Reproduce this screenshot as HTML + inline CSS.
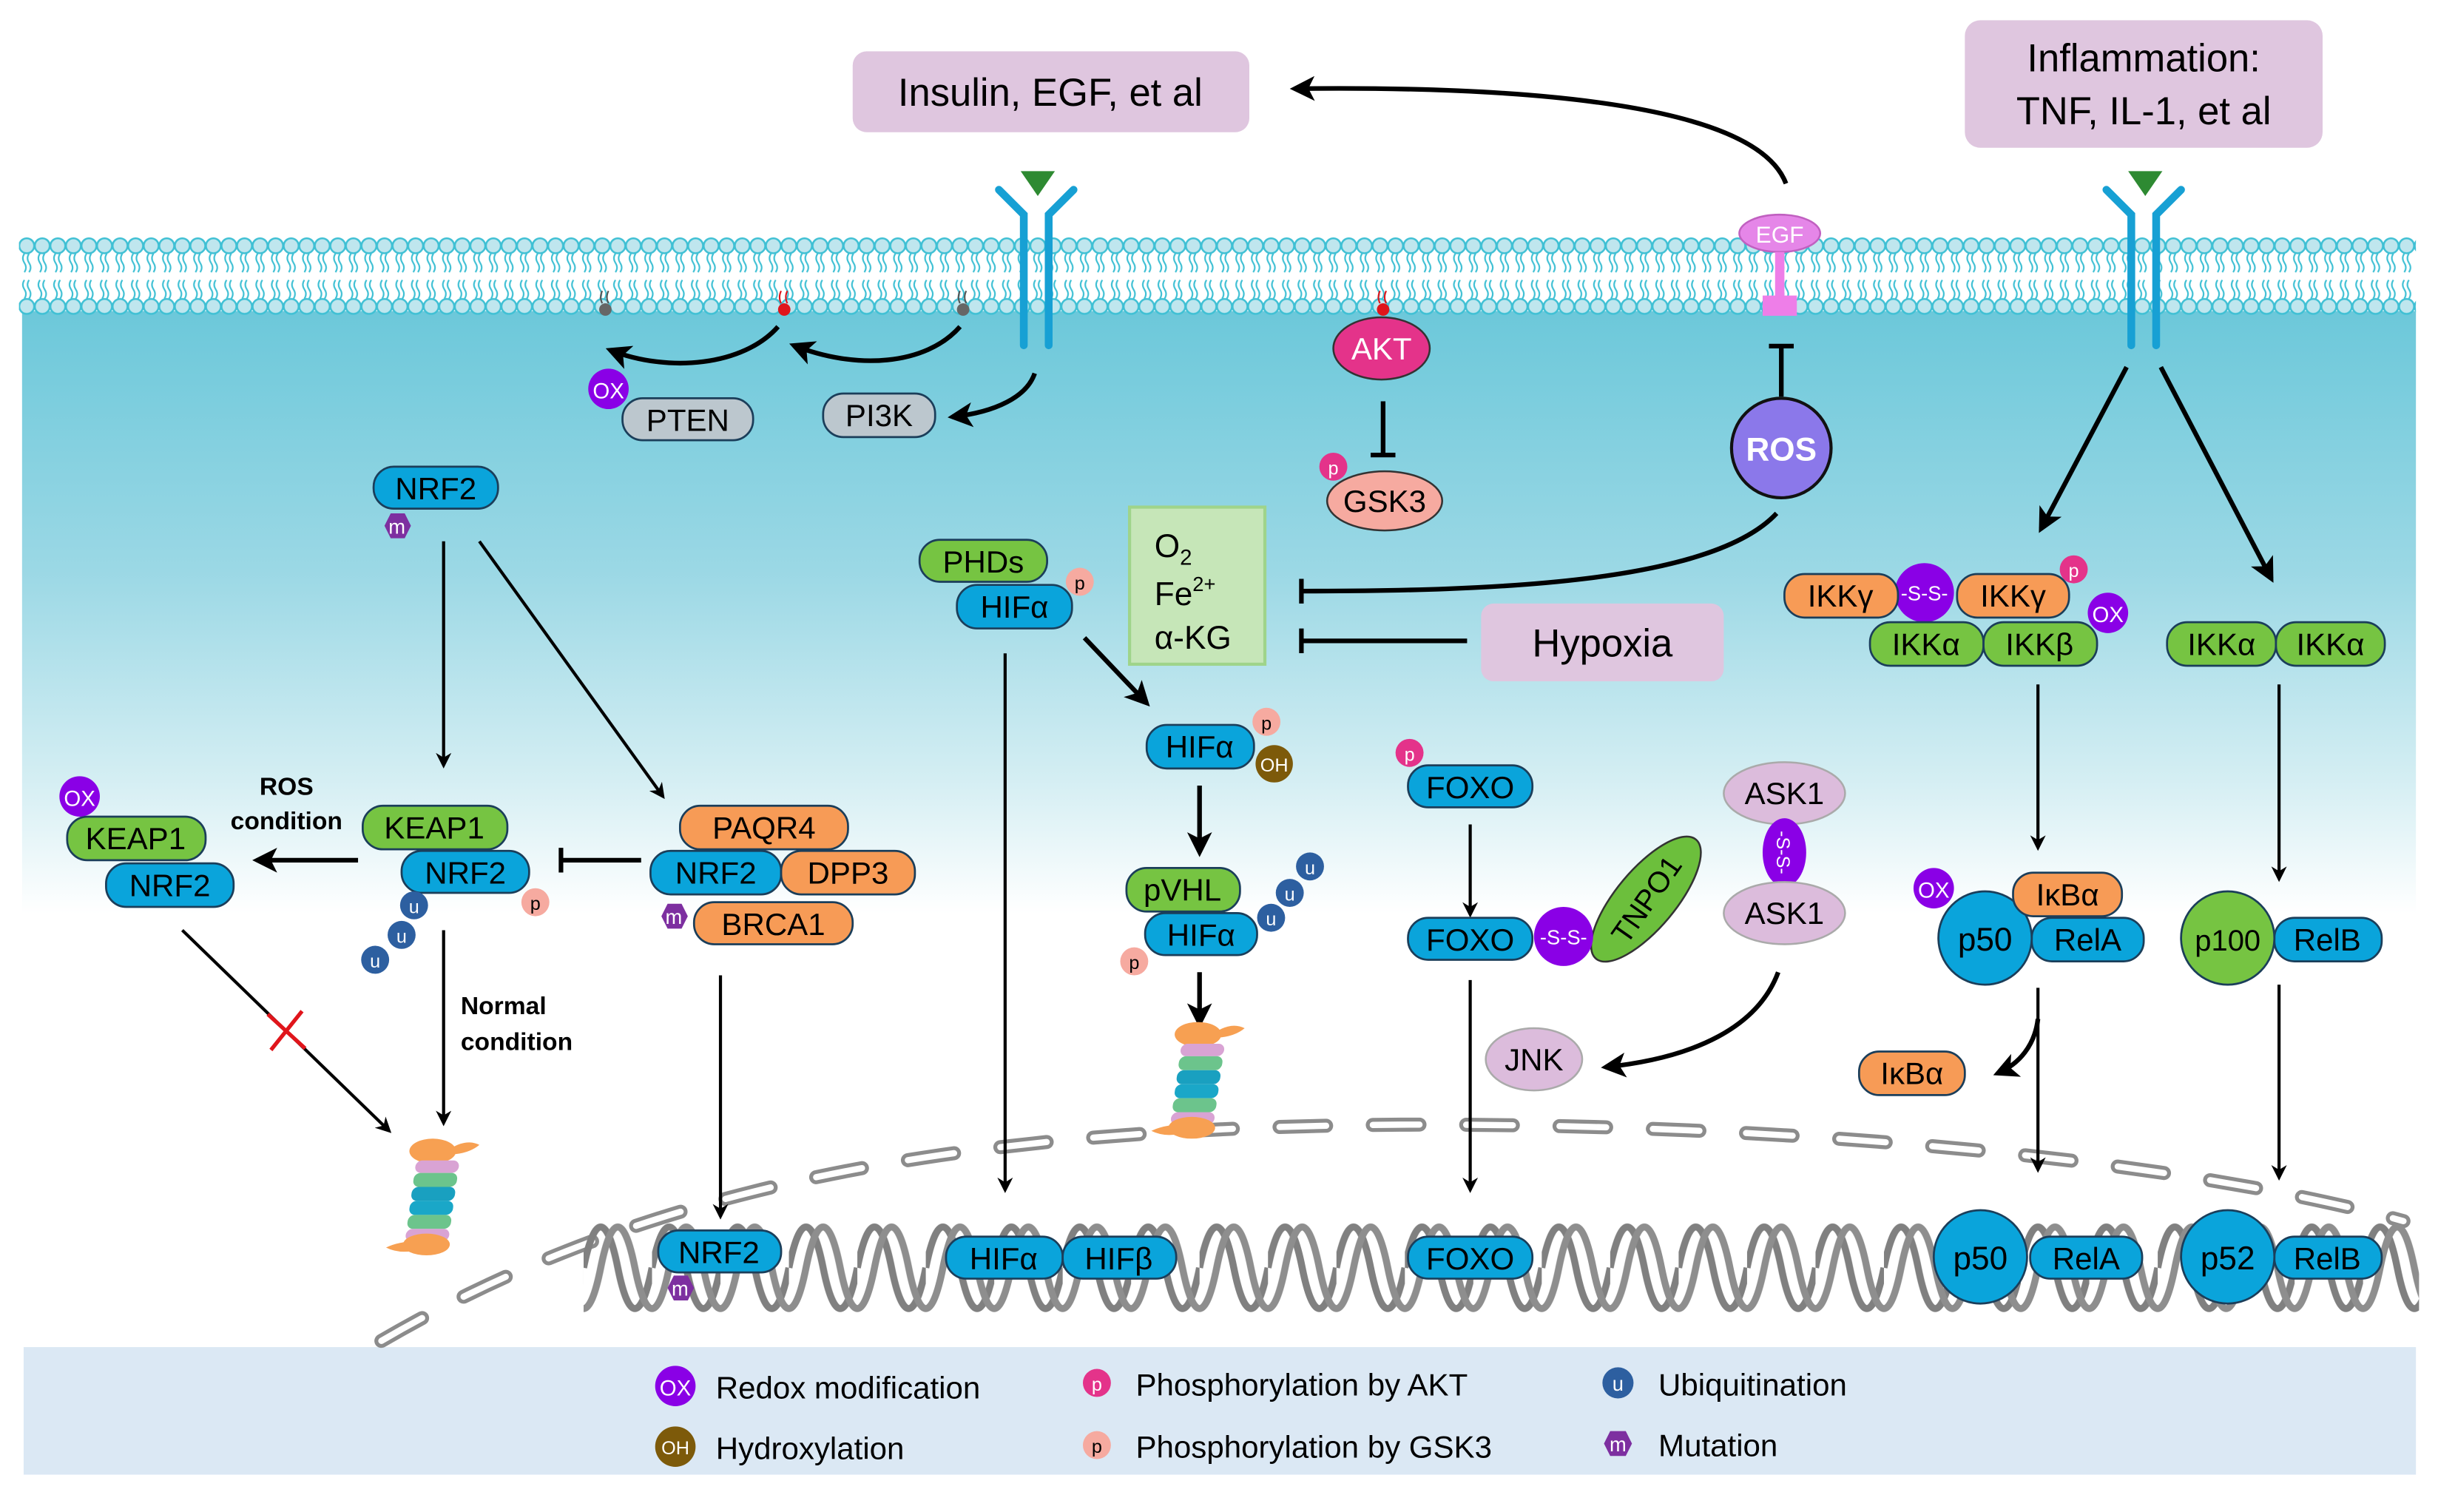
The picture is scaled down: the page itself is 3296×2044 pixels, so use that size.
<!DOCTYPE html>
<html><head><meta charset="utf-8"><style>html,body{margin:0;padding:0;background:#fff}svg{display:block}</style></head><body>
<svg width="3296" height="2044" viewBox="0 0 1567 972" xmlns="http://www.w3.org/2000/svg" font-family="Liberation Sans, Arial, sans-serif">
<defs>
<linearGradient id="cyto" x1="0" y1="0" x2="0" y2="1">
<stop offset="0" stop-color="#6cc8da"/><stop offset="0.25" stop-color="#9bd8e5"/><stop offset="0.45" stop-color="#d4eef3"/><stop offset="0.58" stop-color="#ffffff"/><stop offset="1" stop-color="#ffffff"/></linearGradient>
<pattern id="mem" x="12" y="150" width="10" height="56" patternUnits="userSpaceOnUse">
<circle cx="5" cy="8" r="4.8" fill="#bfe6ee" stroke="#3fc0d4" stroke-width="1.2"/>
<circle cx="5" cy="47" r="4.8" fill="#bfe6ee" stroke="#3fc0d4" stroke-width="1.2"/>
<path d="M3.5 13 q-2 3 0 6 t0 6 M6.5 13 q-2 3 0 6 t0 6 M3.5 30 q-2 3 0 6 t0 6 M6.5 30 q-2 3 0 6 t0 6" fill="none" stroke="#3fc0d4" stroke-width="1"/>
</pattern>
<pattern id="dna" x="375" y="775" width="44" height="80" patternUnits="userSpaceOnUse">
<path d="M0 40 C7 5 15 5 22 40 C29 75 37 75 44 40" fill="none" stroke="#808080" stroke-width="4.5"/>
<path d="M-22 40 C-15 75 -7 75 0 40 C7 5 15 5 22 40 C29 75 37 75 44 40 C51 5 59 5 66 40" fill="none" stroke="#8e8e8e" stroke-width="4.5" transform="translate(11,0)"/>
</pattern>
<marker id="ah" markerWidth="10" markerHeight="10" refX="8" refY="5" orient="auto" markerUnits="userSpaceOnUse" viewBox="0 0 10 10"><path d="M0 0 L10 5 L0 10 L3 5z" fill="#000"/></marker>
<marker id="ah2" markerWidth="16" markerHeight="16" refX="13" refY="8" orient="auto" markerUnits="userSpaceOnUse" viewBox="0 0 16 16"><path d="M0 0 L16 8 L0 16 L4 8z" fill="#000"/></marker>
<marker id="tb" markerWidth="4" markerHeight="16" refX="2" refY="8" orient="auto" markerUnits="userSpaceOnUse" viewBox="0 0 4 16"><rect x="0" y="0" width="3" height="16" fill="#000"/></marker>
<g id="prot">
<ellipse cx="0" cy="-30" rx="15" ry="8" fill="#f7a052"/><path d="M12 -32 q10 -6 18 -2 q-6 5 -16 6z" fill="#f7a052"/>
<g transform="skewX(-8)">
<rect x="-14" y="-24" width="28" height="8" rx="4" fill="#d9a3d4"/>
<rect x="-14" y="-16" width="28" height="9" rx="4" fill="#6cc48c"/>
<rect x="-14" y="-7" width="28" height="9" rx="4" fill="#19a0c0"/>
<rect x="-14" y="2" width="28" height="9" rx="4" fill="#1aa7c8"/>
<rect x="-14" y="11" width="28" height="9" rx="4" fill="#6cc48c"/>
<rect x="-14" y="20" width="28" height="8" rx="4" fill="#d9a3d4"/>
</g>
<ellipse cx="-4" cy="30" rx="15" ry="7" fill="#f7a052"/><path d="M-10 28 q-12 0 -20 4 q8 4 18 2z" fill="#f7a052"/>
</g>
</defs>
<rect width="1567" height="972" fill="#fff"/>
<rect x="14" y="200" width="1539" height="668" fill="url(#cyto)"/>
<rect x="12" y="150" width="1541" height="56" fill="url(#mem)"/>
<rect x="15" y="866" width="1538" height="82" fill="#dbe8f4"/>
<path d="M245 862 C420 760 620 725 900 723 C1150 722 1400 745 1545 785" fill="none" stroke="#8c8c8c" stroke-width="9" stroke-dasharray="30 30" stroke-linecap="round"/>
<path d="M245 862 C420 760 620 725 900 723 C1150 722 1400 745 1545 785" fill="none" stroke="#fff" stroke-width="4" stroke-dasharray="30 30" stroke-linecap="round"/>
<rect x="375" y="780" width="1180" height="72" fill="url(#dna)"/>
<rect x="548" y="33" width="255" height="52" rx="9" fill="#dfc6df"/>
<text x="675" y="68" font-size="25" text-anchor="middle">Insulin, EGF, et al</text>
<rect x="1263" y="13" width="230" height="82" rx="10" fill="#dfc6df"/>
<text x="1378" y="46" font-size="25" text-anchor="middle">Inflammation:</text>
<text x="1378" y="80" font-size="25" text-anchor="middle">TNF, IL-1, et al</text>
<g id="rec"><path d="M642 122 L658 138 L658 222 M690 122 L674 138 L674 222" fill="none" stroke="#17a0d4" stroke-width="5" stroke-linecap="round"/><path d="M656 110 L678 110 L667 126z" fill="#2e8a32"/></g>
<use href="#rec" transform="translate(712,0)"/>
<circle cx="389" cy="199" r="4" fill="#666"/><path d="M387 195 q-2-4 0-8 M391 195 q-2-4 0-8" stroke="#555" fill="none"/>
<circle cx="504" cy="199" r="4" fill="#e0151b"/><path d="M502 195 q-2-4 0-8 M506 195 q-2-4 0-8" stroke="#e0151b" fill="none"/>
<circle cx="619" cy="199" r="4" fill="#666"/><path d="M617 195 q-2-4 0-8 M621 195 q-2-4 0-8" stroke="#555" fill="none"/>
<circle cx="889" cy="199" r="4" fill="#e0151b"/><path d="M887 195 q-2-4 0-8 M891 195 q-2-4 0-8" stroke="#e0151b" fill="none"/>
<g fill="none" stroke="#000" stroke-width="3">
<path d="M617 210 C595 235 550 238 510 222" marker-end="url(#ah2)"/>
<path d="M500 210 C478 235 430 240 392 225" marker-end="url(#ah2)"/>
<path d="M665 240 C660 255 640 265 612 268" marker-end="url(#ah2)"/>
<path d="M1148 118 C1130 70 1000 55 832 57" marker-end="url(#ah2)"/>
<path d="M1142 330 C1100 375 960 380 836 380" marker-end="url(#tb)"/>
<path d="M943 412 L836 412" marker-end="url(#tb)"/>
<path d="M1145 255 L1145 222" marker-end="url(#tb)"/>
<path d="M889 258 L889 293" marker-end="url(#tb)"/>
<path d="M1367 236 L1312 340" marker-end="url(#ah2)"/>
<path d="M1389 236 L1460 372" marker-end="url(#ah2)"/>
</g>
<g fill="none" stroke="#000" stroke-width="2">
<path d="M285 348 L285 492" marker-end="url(#ah)"/>
<path d="M308 348 L426 512" marker-end="url(#ah)"/>
<path d="M285 598 L285 722" marker-end="url(#ah)"/>
<path d="M117 598 L250 727" marker-end="url(#ah)"/>
<path d="M463 627 L463 782" marker-end="url(#ah)"/>
<path d="M646 420 L646 765" marker-end="url(#ah)"/>
<path d="M945 530 L945 588" marker-end="url(#ah)"/>
<path d="M945 630 L945 765" marker-end="url(#ah)"/>
<path d="M1310 440 L1310 545" marker-end="url(#ah)"/>
<path d="M1465 440 L1465 565" marker-end="url(#ah)"/>
<path d="M1310 635 L1310 752" marker-end="url(#ah)"/>
<path d="M1465 633 L1465 757" marker-end="url(#ah)"/>
</g>
<g fill="none" stroke="#000" stroke-width="3">
<path d="M697 410 L737 452" marker-end="url(#ah2)"/>
<path d="M771 505 L771 548" marker-end="url(#ah2)"/>
<path d="M771 625 L771 658" marker-end="url(#ah2)"/>
<path d="M230 553 L165 553" marker-end="url(#ah2)"/>
<path d="M412 553 L360 553" marker-end="url(#tb)"/>
<path d="M1143 625 C1130 660 1090 680 1032 686" marker-end="url(#ah2)"/>
<path d="M1310 655 C1308 672 1298 684 1284 690" marker-end="url(#ah2)"/>
</g>
<path d="M172 652 L196 674 M174 675 L194 650" stroke="#e0151b" stroke-width="2.5"/>
<text x="184" y="511" font-size="16" font-weight="bold" text-anchor="middle">ROS</text>
<text x="184" y="533" font-size="16" font-weight="bold" text-anchor="middle">condition</text>
<text x="296" y="652" font-size="16" font-weight="bold">Normal</text>
<text x="296" y="675" font-size="16" font-weight="bold">condition</text>
<use href="#prot" transform="translate(278,770)"/>
<use href="#prot" transform="translate(770,695)"/>
<g stroke="#333" stroke-width="1.2" font-size="20" text-anchor="middle">
<ellipse cx="888" cy="224" rx="31" ry="20" fill="#e4338a"/><text x="888" y="231" fill="#fff" stroke="none">AKT</text>
<ellipse cx="890" cy="322" rx="37" ry="19" fill="#f6aaa0"/><text x="890" y="329" stroke="none">GSK3</text>
<ellipse cx="1144" cy="150" rx="26" ry="12" fill="#e586e8" stroke="#c060c0"/><text x="1144" y="156" font-size="15" fill="#fff" stroke="none">EGF</text>
<rect x="1141" y="162" width="6" height="30" fill="#ee7ee8" stroke="none"/><rect x="1133" y="190" width="22" height="13" fill="#ee7ee8" stroke="none"/>
<circle cx="1145" cy="288" r="32" fill="#8b78ea" stroke="#111" stroke-width="2"/><text x="1145" y="296" fill="#fff" font-weight="bold" stroke="none" font-size="21">ROS</text>
<ellipse cx="1147" cy="510" rx="39" ry="20" fill="#dcbcdc" stroke="#aaa"/><text x="1147" y="517" stroke="none">ASK1</text>
<ellipse cx="1147" cy="548" rx="14" ry="22" fill="#8a00e6" stroke="none"/><text x="1147" y="553" font-size="12" fill="#fff" stroke="none" transform="rotate(90 1147 548)">-S-S-</text>
<ellipse cx="1147" cy="587" rx="39" ry="20" fill="#dcbcdc" stroke="#aaa"/><text x="1147" y="594" stroke="none">ASK1</text>
<ellipse cx="986" cy="681" rx="31" ry="20" fill="#dcbcdc" stroke="#aaa"/><text x="986" y="688" stroke="none">JNK</text>
<ellipse cx="1058" cy="578" rx="19" ry="50" fill="#6cbf3c" transform="rotate(40 1058 578)"/><text x="1058" y="585" stroke="none" font-size="19" transform="rotate(-55 1058 578)">TNPO1</text>
<circle cx="1005" cy="602" r="19" fill="#8a00e6" stroke="none"/><text x="1005" y="607" font-size="13" fill="#fff" stroke="none">-S-S-</text>
<circle cx="1237" cy="381" r="19" fill="#8a00e6" stroke="none"/><text x="1237" y="386" font-size="13" fill="#fff" stroke="none">-S-S-</text>
</g>
<rect x="726" y="326" width="87" height="101" fill="#c6e6b8" stroke="#9fd48a" stroke-width="2"/>
<text x="742" y="358" font-size="21">O<tspan font-size="14" dy="5">2</tspan></text>
<text x="742" y="389" font-size="21">Fe<tspan font-size="13" dy="-9">2+</tspan></text>
<text x="742" y="417" font-size="21">α-KG</text>
<rect x="952" y="388" width="156" height="50" rx="8" fill="#dfc6df"/>
<text x="1030" y="422" font-size="25" text-anchor="middle">Hypoxia</text>
<g stroke="#1b3e5a" stroke-width="1.3" font-size="20" text-anchor="middle">
<rect x="400" y="256" width="84" height="27" rx="13" fill="#bcc7ce"/><text x="442" y="277" stroke="none">PTEN</text>
<rect x="529" y="253" width="72" height="28" rx="13" fill="#bcc7ce"/><text x="565" y="274" stroke="none">PI3K</text>
<g fill="#0aa4db">
<rect x="240" y="300" width="80" height="27" rx="13"/>
<rect x="258" y="547" width="82" height="27" rx="13"/>
<rect x="68" y="555" width="82" height="28" rx="13"/>
<rect x="418" y="547" width="84" height="28" rx="13"/>
<rect x="423" y="791" width="79" height="27" rx="13"/>
<rect x="615" y="376" width="74" height="28" rx="13"/>
<rect x="737" y="466" width="69" height="28" rx="13"/>
<rect x="736" y="587" width="72" height="27" rx="13"/>
<rect x="608" y="795" width="75" height="27" rx="13"/>
<rect x="683" y="795" width="73" height="27" rx="13"/>
<rect x="905" y="492" width="80" height="27" rx="13"/>
<rect x="905" y="590" width="80" height="27" rx="13"/>
<rect x="905" y="795" width="80" height="27" rx="13"/>
<rect x="1306" y="590" width="72" height="28" rx="13"/>
<rect x="1462" y="590" width="69" height="28" rx="13"/>
<rect x="1305" y="795" width="72" height="27" rx="13"/>
<rect x="1462" y="795" width="69" height="27" rx="13"/>
<circle cx="1276" cy="603" r="30"/>
<circle cx="1273" cy="808" r="30"/>
<circle cx="1432" cy="808" r="30"/>
</g>
<g fill="#76c442">
<rect x="233" y="518" width="93" height="28" rx="13"/>
<rect x="43" y="525" width="89" height="28" rx="13"/>
<rect x="591" y="347" width="82" height="27" rx="13"/>
<rect x="724" y="558" width="73" height="28" rx="13"/>
<rect x="1202" y="400" width="73" height="28" rx="13"/>
<rect x="1275" y="400" width="73" height="28" rx="13"/>
<rect x="1393" y="400" width="70" height="28" rx="13"/>
<rect x="1463" y="400" width="70" height="28" rx="13"/>
<circle cx="1432" cy="603" r="30"/>
</g>
<g fill="#f79b56">
<rect x="437" y="518" width="108" height="28" rx="13"/>
<rect x="502" y="547" width="86" height="28" rx="13"/>
<rect x="446" y="580" width="102" height="27" rx="13"/>
<rect x="1147" y="369" width="73" height="28" rx="13"/>
<rect x="1258" y="369" width="72" height="28" rx="13"/>
<rect x="1294" y="561" width="70" height="28" rx="13"/>
<rect x="1195" y="676" width="68" height="28" rx="13"/>
</g>
<g stroke="none">
<text x="280" y="321">NRF2</text><text x="299" y="568">NRF2</text><text x="109" y="576">NRF2</text>
<text x="460" y="568">NRF2</text><text x="462" y="812">NRF2</text><text x="652" y="397">HIFα</text>
<text x="771" y="487">HIFα</text><text x="772" y="608">HIFα</text><text x="645" y="816">HIFα</text><text x="719" y="816">HIFβ</text>
<text x="945" y="513">FOXO</text><text x="945" y="611">FOXO</text><text x="945" y="816">FOXO</text>
<text x="1342" y="611">RelA</text><text x="1496" y="611">RelB</text><text x="1341" y="816">RelA</text><text x="1496" y="816">RelB</text>
<text x="1276" y="611" font-size="21">p50</text><text x="1273" y="816" font-size="21">p50</text><text x="1432" y="816" font-size="21">p52</text>
<text x="1432" y="611" font-size="19">p100</text>
<text x="279" y="539">KEAP1</text><text x="87" y="546">KEAP1</text><text x="632" y="368">PHDs</text><text x="760" y="579">pVHL</text>
<text x="1238" y="421">IKKα</text><text x="1311" y="421">IKKβ</text><text x="1428" y="421">IKKα</text><text x="1498" y="421">IKKα</text>
<text x="491" y="539">PAQR4</text><text x="545" y="568">DPP3</text><text x="497" y="601">BRCA1</text>
<text x="1183" y="390">IKKγ</text><text x="1294" y="390">IKKγ</text><text x="1329" y="582">IκBα</text><text x="1229" y="697">IκBα</text>
</g>
</g>
<g font-size="14" text-anchor="middle" stroke="none">
<circle cx="391" cy="250" r="13" fill="#8a00e6"/><text x="391" y="256" fill="#fff">OX</text>
<circle cx="51" cy="512" r="13" fill="#8a00e6"/><text x="51" y="518" fill="#fff">OX</text>
<circle cx="1355" cy="394" r="13" fill="#8a00e6"/><text x="1355" y="400" fill="#fff">OX</text>
<circle cx="1243" cy="571" r="13" fill="#8a00e6"/><text x="1243" y="577" fill="#fff">OX</text>
<circle cx="857" cy="300" r="9" fill="#e4338a"/><text x="857" y="305" fill="#fff" font-size="12">p</text>
<circle cx="906" cy="484" r="9" fill="#e4338a"/><text x="906" y="489" fill="#fff" font-size="12">p</text>
<circle cx="1333" cy="366" r="9" fill="#e4338a"/><text x="1333" y="371" fill="#fff" font-size="12">p</text>
<circle cx="694" cy="374" r="9" fill="#f6aaa0"/><text x="694" y="379" font-size="12">p</text>
<circle cx="344" cy="580" r="9" fill="#f6aaa0"/><text x="344" y="585" font-size="12">p</text>
<circle cx="814" cy="464" r="9" fill="#f6aaa0"/><text x="814" y="469" font-size="12">p</text>
<circle cx="729" cy="618" r="9" fill="#f6aaa0"/><text x="729" y="623" font-size="12">p</text>
<circle cx="819" cy="491" r="12" fill="#7d5a0a"/><text x="819" y="496" fill="#fff" font-size="12">OH</text>
<g fill="#2d5fa0"><circle cx="266" cy="582" r="9"/><circle cx="258" cy="601" r="9"/><circle cx="241" cy="617" r="9"/>
<circle cx="817" cy="590" r="9"/><circle cx="829" cy="574" r="9"/><circle cx="842" cy="557" r="9"/></g>
<g fill="#fff" font-size="12"><text x="266" y="587">u</text><text x="258" y="606">u</text><text x="241" y="622">u</text><text x="817" y="595">u</text><text x="829" y="579">u</text><text x="842" y="562">u</text></g>
<g fill="#7d2fa0"><polygon points="247,338 251,330 260,330 264,338 260,346 251,346"/><polygon points="425,589 429,581 438,581 442,589 438,597 429,597"/><polygon points="429,828 433,820 442,820 446,828 442,836 433,836"/></g>
<g fill="#fff" font-size="13"><text x="255" y="343">m</text><text x="433" y="594">m</text><text x="437" y="833">m</text></g>
</g>
<g font-size="20">
<circle cx="434" cy="891" r="13" fill="#8a00e6"/><text x="434" y="897" fill="#fff" font-size="14" text-anchor="middle">OX</text>
<text x="460" y="899">Redox modification</text>
<circle cx="434" cy="930" r="13" fill="#7d5a0a"/><text x="434" y="935" fill="#fff" font-size="12" text-anchor="middle">OH</text>
<text x="460" y="938">Hydroxylation</text>
<circle cx="705" cy="889" r="9" fill="#e4338a"/><text x="705" y="894" fill="#fff" font-size="12" text-anchor="middle">p</text>
<text x="730" y="897">Phosphorylation by AKT</text>
<circle cx="705" cy="929" r="9" fill="#f6aaa0"/><text x="705" y="934" font-size="12" text-anchor="middle">p</text>
<text x="730" y="937">Phosphorylation by GSK3</text>
<circle cx="1040" cy="889" r="10" fill="#2d5fa0"/><text x="1040" y="894" fill="#fff" font-size="13" text-anchor="middle">u</text>
<text x="1066" y="897">Ubiquitination</text>
<polygon points="1031,928 1035,920 1045,920 1049,928 1045,936 1035,936" fill="#7d2fa0"/><text x="1040" y="933" fill="#fff" font-size="13" text-anchor="middle">m</text>
<text x="1066" y="936">Mutation</text>
</g>
</svg>
</body></html>
